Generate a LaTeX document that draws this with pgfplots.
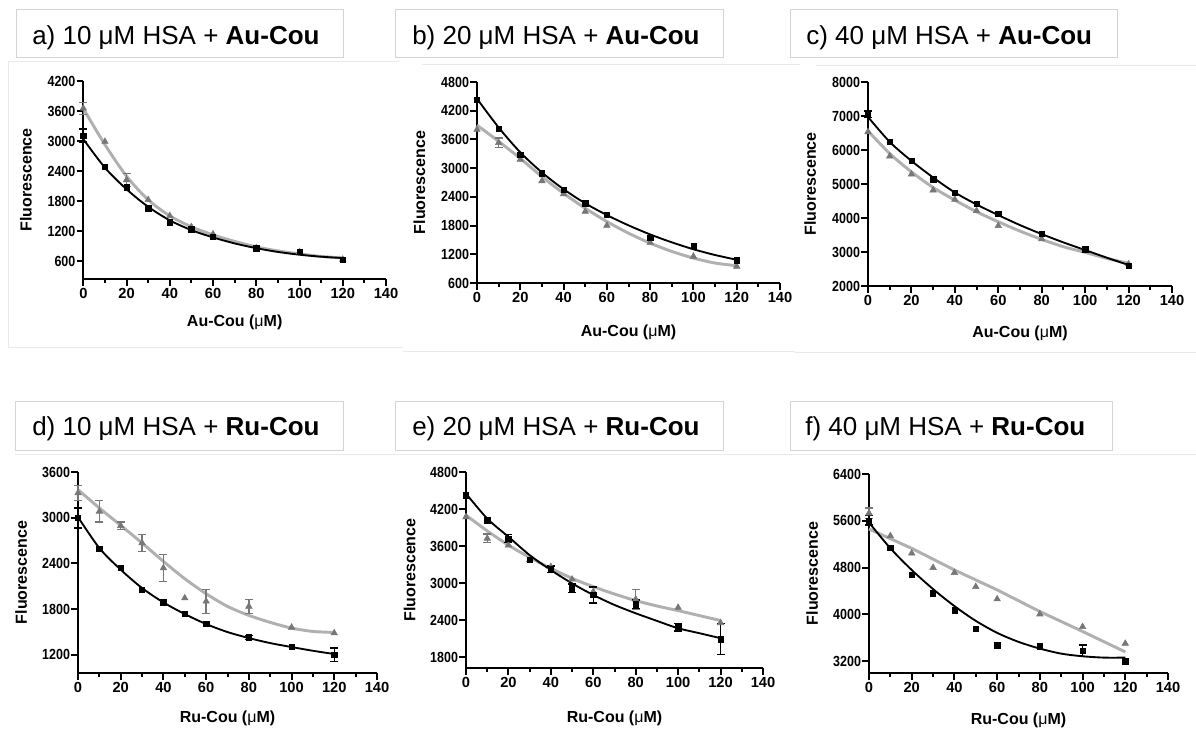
\documentclass[border=0pt]{standalone}
\usepackage{fontspec}
\setmainfont{Liberation Sans}
\usepackage{pgfplots}
\pgfplotsset{compat=1.18}
\definecolor{gmark}{HTML}{777777}
\definecolor{gline}{HTML}{B0B0B0}
\definecolor{frame}{HTML}{D4D4D4}
\definecolor{faint}{HTML}{EAEAEA}
\pgfplotsset{
 panel/.style={
  scale only axis, anchor=south west, clip=false,
  axis lines=left, axis line style={-, line width=1.5pt},
  xmin=0, xmax=140, xtick={0,20,...,140}, minor xtick={10,30,...,130},
  tick align=outside, major tick length=5pt, minor tick length=3pt,
  tick style={black, line width=1.5pt},
  /pgf/number format/assume math mode=true,
  /pgf/number format/1000 sep={},
  scaled y ticks=false, scaled x ticks=false,
  tick label style={font=\bfseries\fontsize{11}{12}\selectfont},
  yticklabel style={xscale=0.85, anchor=east, inner sep=1pt},
  xticklabel style={inner sep=2pt},
  label style={font=\bfseries\fontsize{12}{14}\selectfont},
  ylabel={Fluorescence},
  ylabel style={at={(axis description cs:-0.19,0.5)}, anchor=center},
 },
 bk/.style={black, line width=1.4pt, smooth, mark=none},
 gy/.style={gline, line width=2.2pt, smooth, mark=none},
 bkm/.style={only marks, mark=square*, mark size=2pt, black},
 gym/.style={only marks, mark=triangle*, mark size=2.8pt, gmark},
 bke/.style={draw=none, mark=none, error bars/.cd, y dir=both, y explicit,
   error bar style={draw=black, line width=1pt},
   error mark options={draw=black, rotate=90, mark size=3pt, line width=1pt}},
 gye/.style={draw=none, mark=none, error bars/.cd, y dir=both, y explicit,
   error bar style={draw=gmark, line width=1pt},
   error mark options={draw=gmark, rotate=90, mark size=3pt, line width=1pt}},
}
\newcommand{\ttl}[2]{\fontsize{19.5}{22}\selectfont #1 μM HSA + \textbf{#2}}
\begin{document}
\begin{tikzpicture}
\path[use as bounding box, fill=white] (0pt,0pt) rectangle (897pt,-548.25pt);
% faint panel frames
\draw[faint, line width=0.75pt] (6pt,-46.5pt)--(300pt,-46.5pt);
\draw[faint, line width=0.75pt] (6pt,-46.5pt)--(6pt,-260.25pt)--(302.25pt,-260.25pt);
\draw[faint, line width=0.75pt] (316.5pt,-48.75pt)--(600pt,-48.75pt);
\draw[faint, line width=0.75pt] (302.25pt,-263.25pt)--(596.25pt,-263.25pt);
\draw[faint, line width=0.75pt] (612pt,-49.5pt)--(897pt,-49.5pt);
\draw[faint, line width=0.75pt] (596.25pt,-264pt)--(897pt,-264pt);
\draw[faint, line width=0.75pt] (11.25pt,-340.5pt)--(897pt,-340.5pt);
% title boxes
\draw[frame, line width=0.75pt] (12pt,-7.5pt) rectangle (257.25pt,-43.5pt);
\draw[frame, line width=0.75pt] (296.25pt,-7.5pt) rectangle (542.25pt,-43.5pt);
\draw[frame, line width=0.75pt] (592.5pt,-7.5pt) rectangle (837.75pt,-43.5pt);
\draw[frame, line width=0.75pt] (11.25pt,-300.75pt) rectangle (257.25pt,-337.5pt);
\draw[frame, line width=0.75pt] (296.25pt,-300.75pt) rectangle (542.25pt,-337.5pt);
\draw[frame, line width=0.75pt] (592.5pt,-300.75pt) rectangle (834pt,-337.5pt);
\node[anchor=base west, inner sep=0pt] at (24pt,-33.75pt) {\ttl{a) 10}{Au-Cou}};
\node[anchor=base west, inner sep=0pt] at (309pt,-33.75pt) {\ttl{b) 20}{Au-Cou}};
\node[anchor=base west, inner sep=0pt] at (604.5pt,-33.75pt) {\ttl{c) 40}{Au-Cou}};
\node[anchor=base west, inner sep=0pt] at (24pt,-326.25pt) {\ttl{d) 10}{Ru-Cou}};
\node[anchor=base west, inner sep=0pt] at (309pt,-326.25pt) {\ttl{e) 20}{Ru-Cou}};
\node[anchor=base west, inner sep=0pt] at (603.75pt,-326.25pt) {\ttl{f) 40}{Ru-Cou}};

% ---------- a ----------
\begin{axis}[panel, at={(62.5pt,-209.25pt)}, width=227pt, height=148.5pt,
  ymin=250, ymax=4200, ytick={600,1200,...,4200},
  xlabel={Au-Cou (\textmd{μ}M)}, xlabel style={at={(axis description cs:0.5,-0.217)}, anchor=center}]
\addplot[gy] coordinates {(0,3650)(10,2930)(20,2300)(30,1830)(40,1510)(50,1290)(60,1130)(70,1000)(80,890)(90,810)(100,750)(110,700)(120,670)};
\addplot[gye] coordinates {(0,3655)+-(0,120) (20,2227)+-(0,130)};
\addplot[gym] coordinates {(0,3655)(10,2991)(20,2227)(30,1829)(40,1510)(50,1290)(60,1145)(80,870)(100,790)(120,640)};
\addplot[bk] coordinates {(0,3040)(10,2470)(20,2040)(30,1690)(40,1420)(50,1225)(60,1080)(70,960)(80,865)(90,790)(100,735)(110,695)(120,668)};
\addplot[bke] coordinates {(0,3110)+-(0,130)};
\addplot[bkm] coordinates {(0,3110)(10,2493)(20,2081)(30,1663)(40,1384)(50,1244)(60,1092)(80,866)(100,799)(120,633)};
\end{axis}

% ---------- b ----------
\begin{axis}[panel, at={(357.75pt,-212.25pt)}, width=227.25pt, height=150.75pt,
  ymin=600, ymax=4800, ytick={600,1200,...,4800},
  xlabel={Au-Cou (\textmd{μ}M)}, xlabel style={at={(axis description cs:0.5,-0.244)}, anchor=center}]
\addplot[gy] coordinates {(0,3898)(10,3560)(20,3203)(30,2822)(40,2474)(50,2162)(60,1884)(70,1641)(80,1433)(90,1260)(100,1121)(110,1017)(120,961)};
\addplot[gye] coordinates {(10,3530)+-(0,100)};
\addplot[gym] coordinates {(0,3807)(10,3530)(20,3183)(30,2731)(40,2461)(50,2093)(60,1801)(80,1447)(100,1155)(120,947)};
\addplot[bk] coordinates {(0,4450)(10,3850)(20,3330)(30,2910)(40,2560)(50,2265)(60,2020)(70,1805)(80,1615)(90,1450)(100,1305)(110,1185)(120,1085)};
\addplot[bkm] coordinates {(0,4432)(10,3828)(20,3273)(30,2891)(40,2544)(50,2266)(60,2023)(80,1551)(100,1385)(120,1072)};
\end{axis}

% ---------- c ----------
\begin{axis}[panel, at={(651pt,-214.5pt)}, width=228pt, height=153pt,
  ymin=2000, ymax=8000, ytick={2000,3000,...,8000},
  xlabel={Au-Cou (\textmd{μ}M)}, xlabel style={at={(axis description cs:0.5,-0.230)}, anchor=center}]
\addplot[gy] coordinates {(0,6561)(10,5896)(20,5357)(30,4897)(40,4525)(50,4183)(60,3889)(70,3615)(80,3370)(90,3155)(100,2989)(110,2812)(120,2666)};
\addplot[gym] coordinates {(0,6532)(10,5817)(20,5289)(30,4819)(40,4545)(50,4212)(60,3772)(80,3380)(100,3038)(120,2646)};
\addplot[bk] coordinates {(0,6972)(10,6238)(20,5680)(30,5191)(40,4750)(50,4398)(60,4085)(70,3791)(80,3527)(90,3282)(100,3057)(110,2832)(120,2617)};
\addplot[bke] coordinates {(0,7050)+-(0,100)};
\addplot[bkm] coordinates {(0,7050)(10,6238)(20,5680)(30,5142)(40,4750)(50,4427)(60,4134)(80,3527)(100,3077)(120,2597)};
\end{axis}

% ---------- d ----------
\begin{axis}[panel, at={(58.5pt,-504.75pt)}, width=224.25pt, height=150.75pt,
  ymin=960, ymax=3600, ytick={1200,1800,...,3600},
  xlabel={Ru-Cou (\textmd{μ}M)}, xlabel style={at={(axis description cs:0.5,-0.224)}, anchor=center}]
\addplot[gy] coordinates {(0,3368)(10,3127)(20,2899)(30,2667)(40,2426)(50,2198)(60,2001)(70,1835)(80,1717)(90,1625)(100,1550)(110,1506)(120,1493)};
\addplot[gye] coordinates {(0,3324)+-(0,95)(10,3083)+-(0,140)(20,2895)+-(0,50)(30,2667)+-(0,110)(40,2339)+-(0,175)(60,1901)+-(0,160)(80,1835)+-(0,90)};
\addplot[gym] coordinates {(0,3324)(10,3083)(20,2895)(30,2667)(40,2339)(50,1944)(60,1901)(80,1835)(100,1559)(120,1484)};
\addplot[bk] coordinates {(0,3009)(10,2601)(20,2317)(30,2076)(40,1887)(50,1734)(60,1603)(70,1498)(80,1419)(90,1353)(100,1301)(110,1252)(120,1209)};
\addplot[bke] coordinates {(0,2996)+-(0,130)(80,1428)+-(0,25)(120,1200)+-(0,90)};
\addplot[bkm] coordinates {(0,2996)(10,2588)(20,2339)(30,2054)(40,1887)(50,1734)(60,1607)(80,1428)(100,1309)(120,1200)};
\end{axis}

% ---------- e ----------
\begin{axis}[panel, at={(349.5pt,-501pt)}, width=222.75pt, height=147pt,
  ymin=1630, ymax=4800, ytick={1800,2400,...,4800},
  xlabel={Ru-Cou (\textmd{μ}M)}, xlabel style={at={(axis description cs:0.5,-0.255)}, anchor=center}]
\addplot[gy] coordinates {(0,4101)(10,3848)(20,3617)(30,3418)(40,3241)(50,3080)(60,2945)(70,2827)(80,2720)(90,2633)(100,2558)(110,2478)(120,2397)};
\addplot[gye] coordinates {(10,3725)+-(0,70)(80,2741)+-(0,160)};
\addplot[gym] coordinates {(0,4074)(10,3725)(20,3617)(30,3375)(40,3268)(50,3064)(60,2865)(80,2741)(100,2607)(120,2360)};
\addplot[bk] coordinates {(0,4451)(10,4047)(20,3752)(30,3456)(40,3214)(50,2999)(60,2811)(70,2650)(80,2515)(90,2392)(100,2273)(110,2193)(120,2112)};
\addplot[bke] coordinates {(20,3725)+-(0,60)(40,3230)+-(0,50)(50,2918)+-(0,70)(60,2811)+-(0,130)(80,2660)+-(0,70)(100,2289)+-(0,60)(120,2096)+-(0,250)};
\addplot[bkm] coordinates {(0,4424)(10,4020)(20,3725)(30,3386)(40,3230)(50,2918)(60,2811)(80,2660)(100,2289)(120,2096)};
\end{axis}

% ---------- f ----------
\begin{axis}[panel, at={(651.75pt,-504.75pt)}, width=224.25pt, height=149.25pt,
  ymin=3000, ymax=6400, ytick={3200,4000,...,6400},
  xlabel={Ru-Cou (\textmd{μ}M)}, xlabel style={at={(axis description cs:0.5,-0.236)}, anchor=center}]
\addplot[gline, line width=2.2pt] coordinates {(0,5460)(20,5130)(40,4760)(60,4420)(80,4050)(100,3710)(120,3360)};
\addplot[gye] coordinates {(0,5731)+-(0,90)};
\addplot[gym] coordinates {(0,5731)(10,5343)(20,5046)(30,4800)(40,4714)(50,4474)(60,4263)(80,4006)(100,3789)(120,3503)};
\addplot[bk] coordinates {(0,5571)(10,5131)(20,4760)(30,4434)(40,4143)(50,3891)(60,3686)(70,3532)(80,3417)(90,3331)(100,3286)(110,3263)(120,3263)};
\addplot[bke] coordinates {(0,5606)+-(0,80)(100,3377)+-(0,100)};
\addplot[bkm] coordinates {(0,5606)(10,5143)(20,4674)(30,4360)(40,4074)(50,3760)(60,3474)(80,3457)(100,3377)(120,3200)};
\end{axis}
\end{tikzpicture}
\end{document}
